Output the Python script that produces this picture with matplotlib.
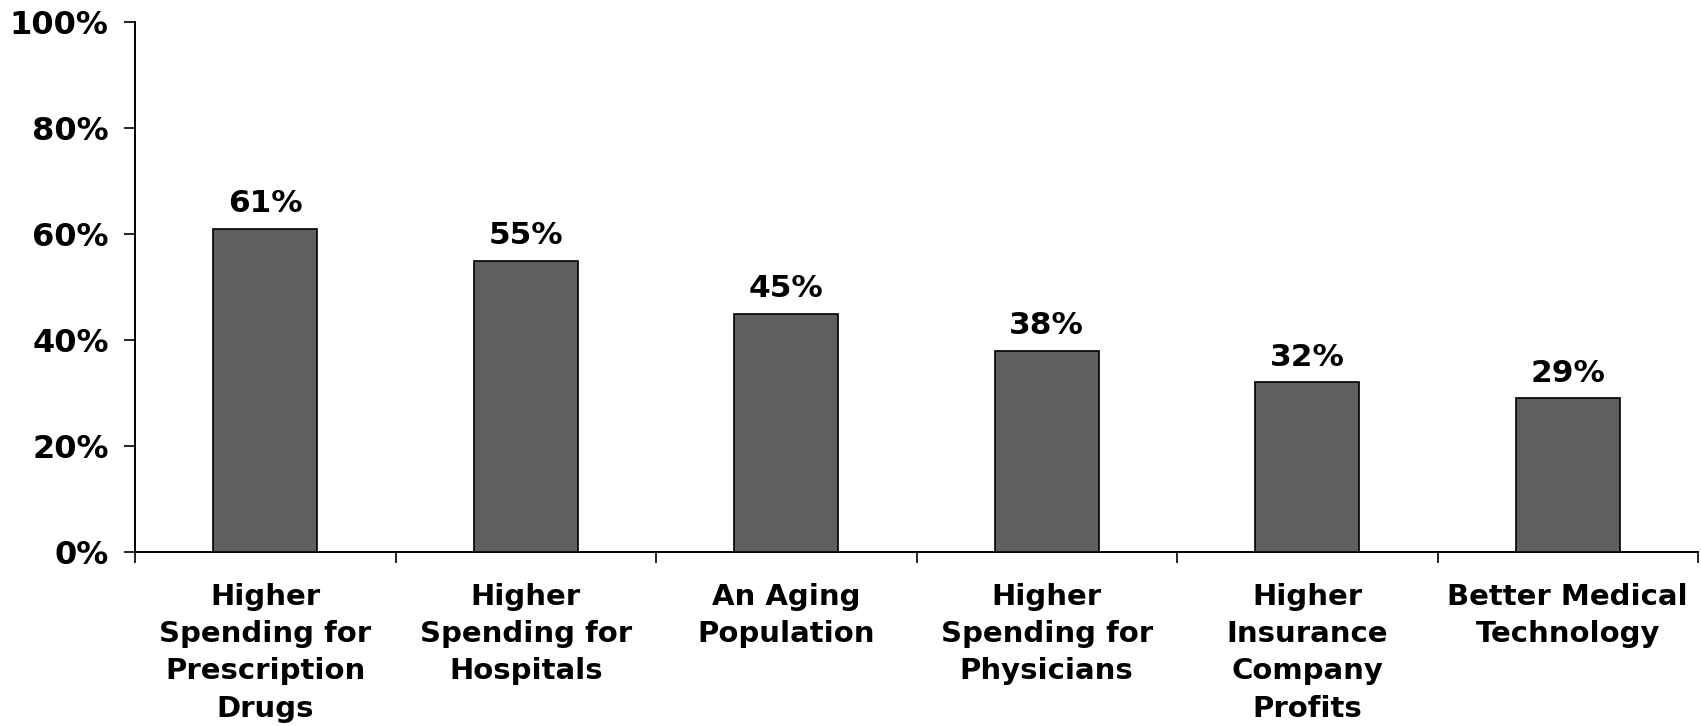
import matplotlib
matplotlib.use("Agg")
import matplotlib.pyplot as plt
import numpy as np

categories = [
    "Higher\nSpending for\nPrescription\nDrugs",
    "Higher\nSpending for\nHospitals",
    "An Aging\nPopulation",
    "Higher\nSpending for\nPhysicians",
    "Higher\nInsurance\nCompany\nProfits",
    "Better Medical\nTechnology",
]
values = [61, 55, 45, 38, 32, 29]
ytick_values = [0, 20, 40, 60, 80, 100]
ytick_labels = ["0%", "20%", "40%", "60%", "80%", "100%"]

plt.rcParams['font.family'] = ['DejaVu Sans']
plt.rcParams['font.weight'] = 'bold'

fig = plt.figure(figsize=(17.01, 7.26), dpi=100)
ax = fig.add_axes([135/1701, (726-552)/726, (1698-135)/1701, (552-22)/726])

x = np.arange(len(values))
bars = ax.bar(x, values, width=0.4, color="#606060", edgecolor="black", linewidth=1.2, zorder=3)

for xi, v in zip(x, values):
    ax.annotate(f"{v}%", xy=(xi, v), xytext=(0, 12), textcoords="offset points",
                ha="center", va="baseline", fontsize=22.5, fontweight="bold")

ax.set_xlim(-0.5, len(values) - 0.5)
ax.set_ylim(0, 100)
ax.set_yticks(ytick_values)
ax.set_yticklabels(ytick_labels, fontsize=23, fontweight="bold")

ax.set_xticks(np.arange(-0.5, len(values), 1.0))
ax.set_xticklabels([])
ax.set_xticks(x, minor=True)
ax.set_xticklabels(categories, minor=True, fontsize=21, fontweight="bold", linespacing=1.43)
ax.tick_params(axis="x", which="major", direction="out", length=8, width=1.2)
ax.tick_params(axis="x", which="minor", length=0, pad=22)
ax.tick_params(axis="y", direction="out", length=8, width=1.2, pad=11)

for s in ["top", "right"]:
    ax.spines[s].set_visible(False)
for s in ["left", "bottom"]:
    ax.spines[s].set_linewidth(1.4)

fig.savefig("out.png", dpi=100)
